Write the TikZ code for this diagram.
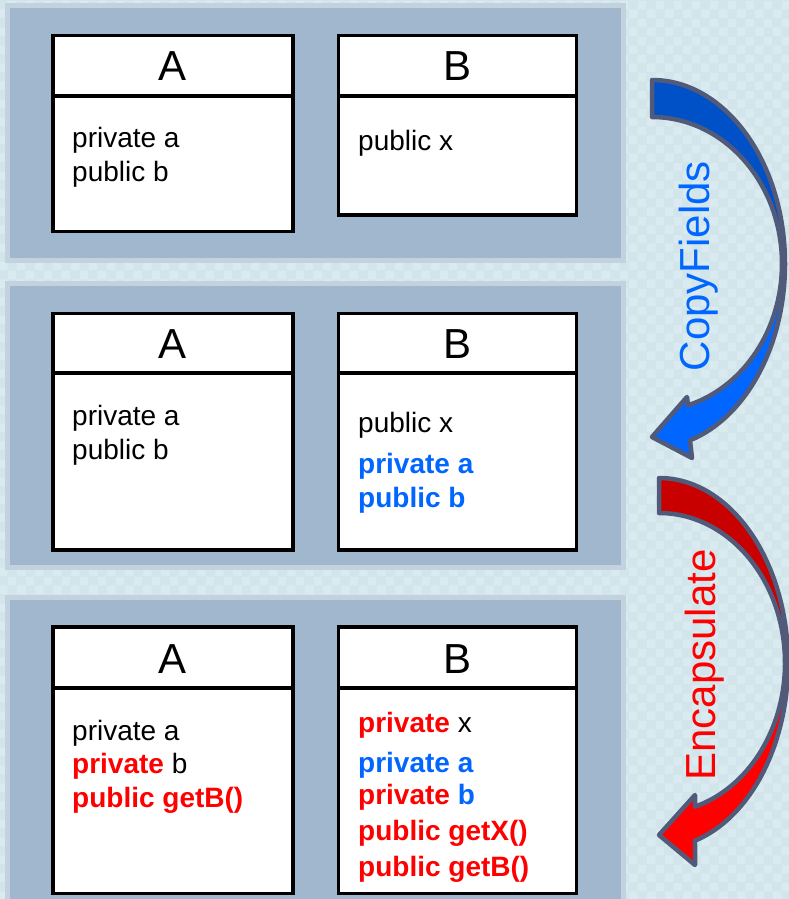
\documentclass[tikz,border=0pt]{standalone}
\usepackage{fontspec}
\setmainfont{Liberation Sans}
\usetikzlibrary{patterns}

\definecolor{bgcyan}{RGB}{210,229,235}
\definecolor{bgcheck}{RGB}{217,234,240}
\definecolor{panelfill}{RGB}{161,183,206}
\definecolor{panelrim}{RGB}{196,210,224}
\definecolor{fldblue}{RGB}{0,102,255}
\definecolor{fldred}{RGB}{255,0,0}
\definecolor{arrowrim}{RGB}{82,90,122}
\definecolor{blueback}{RGB}{0,80,200}
\definecolor{redback}{RGB}{200,0,0}

% soft checkered texture for the page
\pgfdeclarepatternformonly{softchecker}{\pgfpointorigin}{\pgfpoint{18pt}{18pt}}{\pgfpoint{18pt}{18pt}}{%
  \pgfpathrectangle{\pgfpointorigin}{\pgfpoint{9pt}{9pt}}%
  \pgfpathrectangle{\pgfpoint{9pt}{9pt}}{\pgfpoint{9pt}{9pt}}%
  \pgfusepath{fill}}

\tikzset{
  panel/.style={fill=panelfill, draw=panelrim, line width=5pt},
  classbox/.style={fill=white, draw=black, line width=3.5pt, inner sep=0pt,
                   outer sep=0pt, anchor=north west},
  classline/.style={draw=black, line width=3.5pt},
  classname/.style={font=\fontsize{42}{42}\selectfont, inner sep=0pt, anchor=base},
  member/.style={font=\fontsize{28}{28}\selectfont, inner sep=0pt, anchor=base west},
  steplabel/.style={font=\fontsize{42}{42}\selectfont, inner sep=0pt, rotate=90},
  ribbon/.style={draw=arrowrim, line width=4.5pt, line join=round},
}
\newcommand{\newb}[1]{\textcolor{fldblue}{\bfseries #1}}
\newcommand{\newr}[1]{\textcolor{fldred}{\bfseries #1}}

\begin{document}
\begin{tikzpicture}[x=1pt, y=-1pt]
  % page
  \fill[bgcyan] (0,0) rectangle (789,899);
  \fill[pattern=softchecker, pattern color=bgcheck] (0,0) rectangle (789,899);
  \useasboundingbox (0,0) rectangle (789,899);

  % three stage panels
  \draw[panel] (7.5,5.5) rectangle (623.5,260.5);
  \draw[panel] (7.5,283.5) rectangle (623.5,567.5);
  \draw[panel] (7.5,597.5) rectangle (623.5,910);

  % ---------- stage 1 ----------
  \node[classbox, minimum width=240pt, minimum height=196pt] (A1) at (53,35.5) {};
  \draw[classline] (53,96) -- (293,96);
  \node[classname] (A1n) at (173,81) {A};
  \node[member] (A1m1) at (72,147) {private a};
  \node[member] (A1m2) at (72,181) {public b};

  \node[classbox, minimum width=238pt, minimum height=179.5pt] (B1) at (338.5,35.5) {};
  \draw[classline] (338.5,96) -- (576.5,96);
  \node[classname] (B1n) at (457.5,81) {B};
  \node[member] (B1m1) at (358,150) {public x};

  % ---------- stage 2 ----------
  \node[classbox, minimum width=240pt, minimum height=236.5pt] (A2) at (53,313.5) {};
  \draw[classline] (53,373) -- (293,373);
  \node[classname] (A2n) at (173,358) {A};
  \node[member] (A2m1) at (72,425) {private a};
  \node[member] (A2m2) at (72,459) {public b};

  \node[classbox, minimum width=238pt, minimum height=236.5pt] (B2) at (338.5,313.5) {};
  \draw[classline] (338.5,373) -- (576.5,373);
  \node[classname] (B2n) at (457.5,358) {B};
  \node[member] (B2m1) at (358,432) {public x};
  \node[member] (B2m2) at (358,473) {\newb{private a}};
  \node[member] (B2m3) at (358,507) {\newb{public b}};

  % ---------- stage 3 ----------
  \node[classbox, minimum width=240pt, minimum height=266.5pt] (A3) at (53,627) {};
  \draw[classline] (53,688) -- (293,688);
  \node[classname] (A3n) at (173,673) {A};
  \node[member] (A3m1) at (72,740) {private a};
  \node[member] (A3m2) at (72,773) {\newr{private} b};
  \node[member] (A3m3) at (72,807) {\newr{public getB()}};

  \node[classbox, minimum width=238pt, minimum height=266.5pt] (B3) at (338.5,627) {};
  \draw[classline] (338.5,688) -- (576.5,688);
  \node[classname] (B3n) at (457.5,673) {B};
  \node[member] (B3m1) at (358,732) {\newr{private} x};
  \node[member] (B3m2) at (358,772) {\newb{private a}};
  \node[member] (B3m3) at (358,804) {\newr{private} \newb{b}};
  \node[member] (B3m4) at (358,840) {\newr{public getX()}};
  \node[member] (B3m5) at (358,876) {\newr{public getB()}};

  % ---------- curved arrow: CopyFields ----------
  \draw[ribbon, fill=blueback]
    (652,80) arc[start angle=-90, end angle=0, x radius=133, y radius=184]
    -- (782,264) arc[start angle=0, end angle=-90, x radius=130, y radius=147]
    -- cycle;
  \draw[ribbon, fill=fldblue]
    (785,264) arc[start angle=0, end angle=73.4, x radius=133, y radius=184]
    -- (692,458) -- (652,437) -- (687,397)
    -- (688,405.3) arc[start angle=73.9, end angle=0, x radius=130, y radius=147]
    -- cycle;
  \node[steplabel, text=fldblue] (copy) at (699,266) {CopyFields};

  % ---------- curved arrow: Encapsulate ----------
  \draw[ribbon, fill=redback]
    (659,478) arc[start angle=-90, end angle=0, x radius=129, y radius=185]
    -- (785,663) arc[start angle=0, end angle=-90, x radius=126, y radius=150]
    -- cycle;
  \draw[ribbon, fill=fldred]
    (788,663) arc[start angle=0, end angle=73.8, x radius=129, y radius=185]
    -- (695,865) -- (659,835) -- (695,795)
    -- (695,806.7) arc[start angle=73.4, end angle=0, x radius=126, y radius=150]
    -- cycle;
  \node[steplabel, text=fldred] (encap) at (705,665) {Encapsulate};
\end{tikzpicture}
\end{document}
